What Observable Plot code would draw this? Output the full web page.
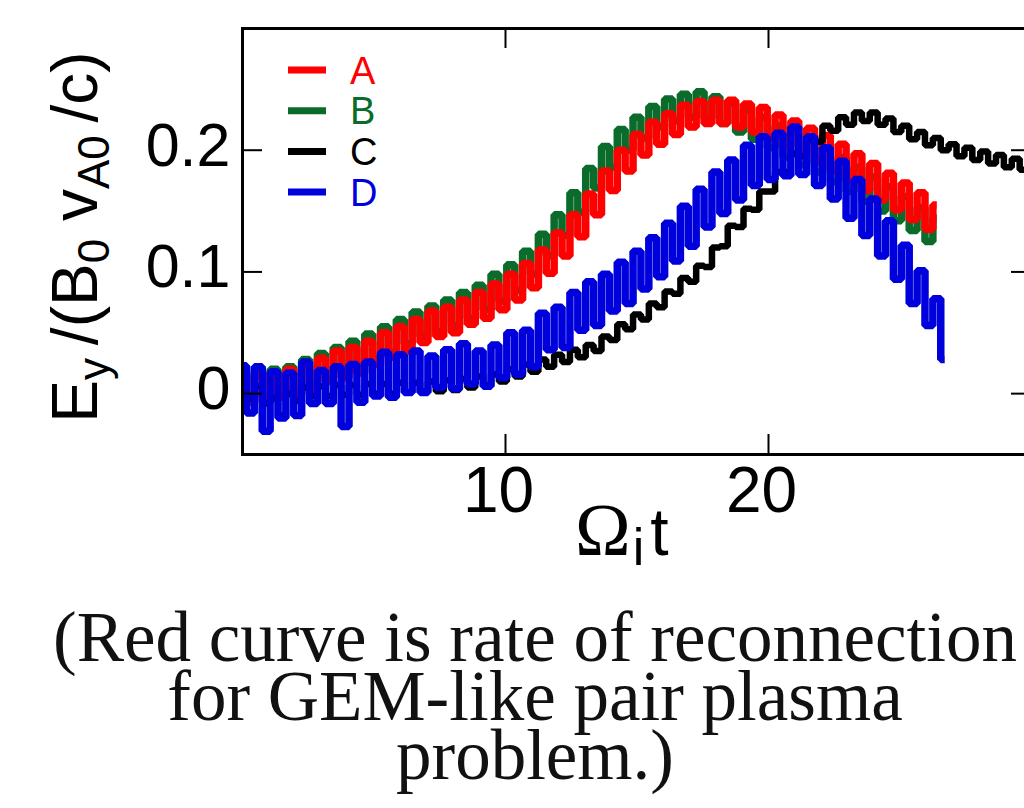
<!DOCTYPE html>
<html><head><meta charset="utf-8">
<script src="https://cdn.jsdelivr.net/npm/d3@7"></script>
<script src="https://cdn.jsdelivr.net/npm/@observablehq/plot@0.6"></script>
<style>
html,body{margin:0;padding:0;background:#fff;overflow:hidden;width:1024px;height:808px;}
#wrap{position:relative;width:1024px;height:808px;overflow:hidden;background:#fff;}
#chart{position:absolute;left:0;top:0;width:1040px;}
#chart svg{max-width:none !important;}
#caption{position:absolute;left:0;top:608px;width:1070px;text-align:center;white-space:nowrap;
  font-family:"Liberation Serif","Times New Roman",serif;font-size:71px;line-height:59px;color:#111;}
</style></head><body>
<div id="wrap"><div id="chart"></div>
<div id="caption">(Red curve is rate of reconnection<br>for GEM-like pair plasma<br>problem.)</div></div>
<script>
// sampling step of the time axis (Omega_i t)
const dt = 0.3;
const seriesNames = ["A", "B", "C", "D"];
const seriesColors = ["#ff0000", "#0b6b2b", "#000000", "#0000dd"];
const xTicks = [10, 20];
const yTicks = [0, 0.1, 0.2];
const yTickLabels = ["0", "0.1", "0.2"];

const valuesA = [0.016,-0.007,0.015,-0.007,0.017,-0.003,0.020,-0.001,0.023,0.003,
0.029,0.010,0.035,0.013,0.038,0.017,0.043,0.024,0.050,0.030,
0.055,0.035,0.061,0.042,0.068,0.047,0.071,0.050,0.077,0.057,
0.083,0.062,0.090,0.069,0.098,0.077,0.107,0.087,0.118,0.099,
0.132,0.113,0.147,0.129,0.164,0.147,0.183,0.167,0.200,0.183,
0.213,0.196,0.223,0.205,0.230,0.213,0.237,0.219,0.240,0.222,
0.241,0.222,0.241,0.219,0.238,0.215,0.235,0.210,0.229,0.203,
0.224,0.197,0.218,0.191,0.212,0.183,0.205,0.175,0.197,0.167,
0.189,0.159,0.181,0.151,0.173,0.143,0.165,0.135,0.155];

const valuesB = [0.016,-0.006,0.018,-0.003,0.020,-0.002,0.022,0.001,0.028,0.008,
0.033,0.012,0.038,0.017,0.043,0.023,0.049,0.029,0.055,0.034,
0.061,0.041,0.067,0.047,0.072,0.051,0.077,0.056,0.083,0.062,
0.089,0.069,0.098,0.076,0.106,0.085,0.117,0.098,0.131,0.113,
0.147,0.130,0.165,0.149,0.185,0.169,0.203,0.186,0.217,0.200,
0.227,0.210,0.236,0.219,0.242,0.224,0.246,0.227,0.248,0.226,
0.244,0.222,0.239,0.215,0.233,0.209,0.227,0.202,0.220,0.194,
0.214,0.188,0.208,0.182,0.202,0.174,0.194,0.166,0.186,0.158,
0.178,0.150,0.170,0.142,0.162,0.134,0.153,0.125,0.144];

const valuesC = [0.006,-0.004,0.006,-0.008,-0.004,-0.018,0.000,-0.006,0.005,-0.002,
0.006,-0.002,0.007,-0.001,0.007,-0.001,0.008,0.000,0.008,0.000,
0.009,0.001,0.009,0.002,0.010,0.002,0.011,0.003,0.012,0.005,
0.014,0.007,0.016,0.010,0.020,0.014,0.024,0.018,0.028,0.022,
0.032,0.026,0.036,0.030,0.040,0.035,0.047,0.044,0.057,0.053,
0.065,0.061,0.074,0.071,0.084,0.082,0.095,0.092,0.105,0.104,
0.120,0.121,0.138,0.137,0.152,0.151,0.166,0.166,0.182,0.182,
0.197,0.195,0.209,0.207,0.220,0.216,0.227,0.221,0.231,0.224,
0.231,0.221,0.226,0.215,0.220,0.209,0.215,0.204,0.210,0.200,
0.205,0.195,0.202,0.192,0.199,0.189,0.196,0.186,0.193,0.184,0.191];

const valuesD = [0.023,-0.016,0.022,-0.031,0.018,-0.020,0.017,-0.018,0.026,-0.008,
0.019,-0.008,0.022,-0.027,0.024,-0.007,0.026,-0.002,0.034,-0.003,
0.032,0.001,0.035,0.001,0.031,0.005,0.036,0.004,0.041,0.008,
0.035,0.006,0.040,0.013,0.050,0.016,0.052,0.022,0.066,0.036,
0.071,0.038,0.083,0.052,0.092,0.056,0.098,0.068,0.108,0.074,
0.117,0.086,0.128,0.096,0.140,0.109,0.154,0.121,0.168,0.137,
0.182,0.148,0.192,0.159,0.204,0.171,0.211,0.176,0.214,0.179,
0.219,0.180,0.211,0.171,0.202,0.160,0.191,0.144,0.176,0.130,
0.160,0.113,0.142,0.094,0.122,0.074,0.101,0.056,0.078,0.028];

const allValues = [valuesA, valuesB, valuesC, valuesD];
const seriesRows = allValues.map((vals, k) => vals.map((v, i) => ({series: seriesNames[k], t: i * dt, v})));

const W = 1040, H = 575, mL = 242, mR = 9, mT = 28, mB = 121;
const innerW = W - mL - mR, innerH = H - mT - mB, tickLen = 20;
const drawOrder = [1, 0, 2, 3];
const lineWidths = [7.5, 7.5, 6.5, 7.5];

const plot = Plot.plot({
  width: W, height: H,
  marginLeft: mL, marginRight: mR, marginTop: mT, marginBottom: mB,
  style: {fontFamily: "Liberation Sans, Arial, sans-serif", color: "black", background: "white"},
  x: {domain: [0, 30]},
  y: {domain: [-0.05, 0.3]},
  marks: [
    ...drawOrder.map(k => Plot.line(seriesRows[k], {x: "t", y: "v", stroke: seriesColors[k], strokeWidth: lineWidths[k], curve: "step", strokeLinejoin: "miter", strokeLinecap: "butt", clip: true})),
    Plot.tickX(xTicks, {x: d => d, stroke: "black", strokeWidth: 2, insetTop: innerH - tickLen}),
    Plot.tickX(xTicks, {x: d => d, stroke: "black", strokeWidth: 2, insetBottom: innerH - tickLen}),
    Plot.tickY(yTicks, {y: d => d, stroke: "black", strokeWidth: 2, insetRight: innerW - tickLen}),
    Plot.tickY(yTicks, {y: d => d, stroke: "black", strokeWidth: 2, insetLeft: innerW - tickLen}),
    Plot.axisX(xTicks, {tickSize: 0, tickPadding: 12, fontSize: 64, dx: -7, label: null, fill: "black"}),
    Plot.axisY(yTicks, {tickSize: 0, tickPadding: 12, fontSize: 61, dy: -4, label: null, fill: "black",
      tickFormat: d => yTickLabels[yTicks.indexOf(d)]}),
    Plot.frame({stroke: "black", strokeWidth: 3})
  ]
});
document.getElementById("chart").appendChild(plot);

const svg = d3.select(plot);
// y-axis title
const yl = svg.append("text")
  .attr("transform", "translate(97,237) rotate(-90)")
  .attr("text-anchor", "middle")
  .attr("font-family", "Liberation Sans, Arial, sans-serif")
  .attr("font-size", 64).attr("fill", "black");
yl.append("tspan").text("E");
yl.append("tspan").attr("font-size", 44).attr("dy", 12).text("y");
yl.append("tspan").attr("dy", -12).text("\u2009/(B");
yl.append("tspan").attr("font-size", 44).attr("dy", 12).text("0");
yl.append("tspan").attr("dy", -12).text(" v");
yl.append("tspan").attr("font-size", 44).attr("dy", 12).text("A0");
yl.append("tspan").attr("dy", -12).text("\u2009/c)");

// x-axis title
const xl = svg.append("text")
  .attr("x", 575).attr("y", 555)
  .attr("text-anchor", "start")
  .attr("fill", "black");
xl.append("tspan").attr("font-family", "Liberation Serif, Times New Roman, serif").attr("font-size", 75).text("\u03A9");
xl.append("tspan").attr("font-family", "Liberation Sans, Arial, sans-serif").attr("font-size", 52).attr("dy", 10).attr("dx", 2).text("i");
xl.append("tspan").attr("font-family", "Liberation Sans, Arial, sans-serif").attr("font-size", 66).attr("dy", -10).attr("dx", 6).text("t");

// legend
const legX0 = 288, legX1 = 326, legTextX = 350, legY0 = 70, legStep = 40.7;
seriesNames.forEach((name, k) => {
  const y = legY0 + k * legStep;
  svg.append("line").attr("x1", legX0).attr("x2", legX1).attr("y1", y).attr("y2", y)
    .attr("stroke", seriesColors[k]).attr("stroke-width", 7);
  svg.append("text").attr("x", legTextX).attr("y", y).attr("dy", "0.36em")
    .attr("text-anchor", "start")
    .attr("font-family", "Liberation Sans, Arial, sans-serif").attr("font-size", 38)
    .attr("fill", seriesColors[k]).text(name);
});
</script>
</body></html>
